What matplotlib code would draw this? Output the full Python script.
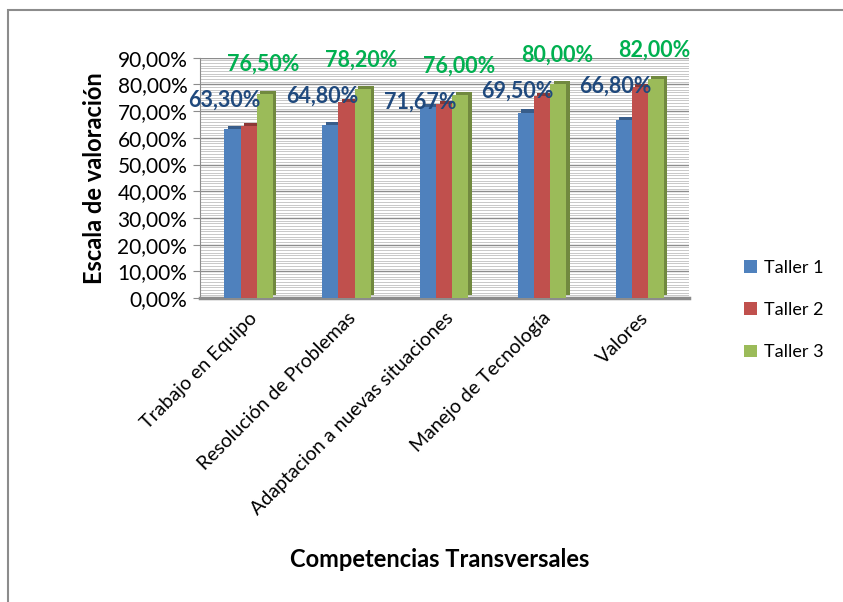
import matplotlib.pyplot as plt
import numpy as np
from matplotlib.patches import Rectangle

plt.rcParams['font.family'] = ['Lato', 'DejaVu Sans']

categorias = ["Trabajo en Equipo", "Resolución de Problemas",
              "Adaptacion a nuevas situaciones", "Manejo de Tecnología", "Valores"]
taller1 = [63.30, 64.80, 71.67, 69.50, 66.80]
taller2 = [64.5, 73.5, 72.5, 75.5, 79.0]   # no labels in the original
taller3 = [76.50, 78.20, 76.00, 80.00, 82.00]
series = ["Taller 1", "Taller 2", "Taller 3"]
colores = ["#4F81BD", "#C0504D", "#9BBB59"]
laterales = ["#385D8A", "#8C3836", "#71893F"]
yticks = np.arange(0, 91, 10)


def pct(v):
    return ("%.2f%%" % v).replace(".", ",")


fig = plt.figure(figsize=(8.43, 6.02), dpi=100)
fig.patches.append(Rectangle((0.0095, -0.05), 1.2, 1.033, transform=fig.transFigure,
                             fill=False, edgecolor="#8c8c8c", linewidth=1.5))
ax = fig.add_axes([0.237, 0.505, 0.58, 0.399])

x = np.arange(len(categorias))
w = 0.165
datos = [taller1, taller2, taller3]
for k, vals in enumerate(datos):
    off = (k - 1) * w
    # darker side to fake the 3D depth
    ax.bar(x + off + 0.035, vals, w, bottom=1.2, color=laterales[k], zorder=2)
    ax.bar(x + off, vals, w, color=colores[k], label=series[k], zorder=3)

# data labels
for i in range(len(categorias)):
    ax.text(i - 0.25, taller3[i] - 2.5, pct(taller1[i]), ha="center", va="center",
            fontsize=15.5, fontweight="bold", color="#1F497D", zorder=5)
    ax.text(i + 0.15, taller3[i] + 11, pct(taller3[i]), ha="center", va="center",
            fontsize=15.5, fontweight="bold", color="#00B050", zorder=5)

ax.set_xlim(-0.5, 4.5)
ax.set_ylim(0, 90)
ax.set_yticks(yticks)
ax.set_yticklabels([pct(v) for v in yticks], fontsize=15)
ax.set_yticks(np.arange(0, 90, 1), minor=True)
ax.tick_params(axis="y", which="minor", length=0)
ax.tick_params(axis="y", which="major", length=5, color="#8c8c8c", pad=4)
ax.grid(axis="y", which="minor", color="#bfbfbf", linewidth=0.6, zorder=0)
ax.grid(axis="y", which="major", color="#8c8c8c", linewidth=1.0, zorder=1)
ax.set_axisbelow(True)

ax.set_xticks(x)
ax.set_xticklabels(categorias, rotation=45, ha="right", rotation_mode="anchor", fontsize=14)
ax.tick_params(axis="x", length=0, pad=8)

for s in ["top", "right"]:
    ax.spines[s].set_visible(False)
ax.spines["left"].set_color("#8c8c8c")
ax.spines["bottom"].set_color("#8c8c8c")
ax.spines["bottom"].set_linewidth(2.5)

ax.set_ylabel("Escala de valoración", fontsize=17, fontweight="bold", labelpad=8)
fig.text(0.522, 0.07, "Competencias Transversales", ha="center", va="center",
         fontsize=17, fontweight="bold")

ax.legend(loc="center left", bbox_to_anchor=(1.08, -0.05), frameon=False, fontsize=13,
          handlelength=0.7, handleheight=0.7, handletextpad=0.4, labelspacing=1.45)

plt.savefig("out.png", dpi=100)
